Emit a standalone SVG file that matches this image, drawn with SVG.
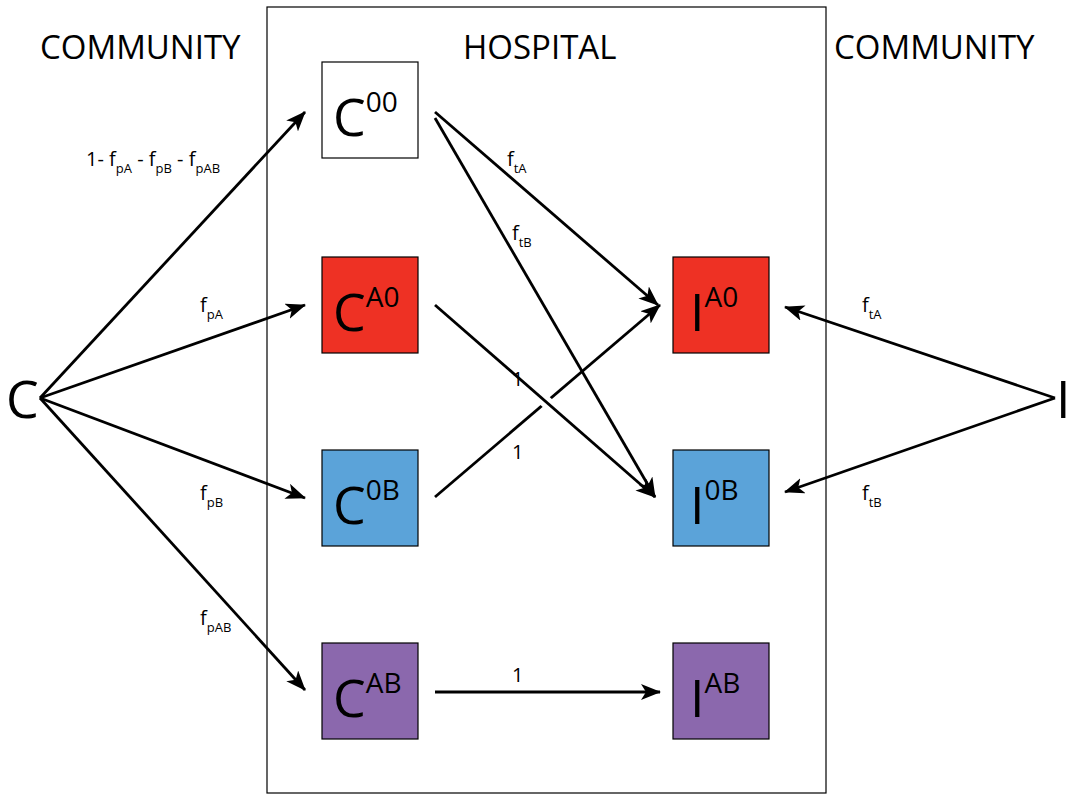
<svg xmlns="http://www.w3.org/2000/svg" width="1074" height="800" viewBox="0 0 1074 800">
<style>
text{font-family:"Open Sans","Liberation Sans",sans-serif;fill:#000}
.big{font-size:52px}
.sup{font-size:28px}
.hd{font-size:33px}
.lb{font-size:20px}
.sb{font-size:13px}
.box{stroke:#000;stroke-width:1.2}
.ln{stroke:#000;stroke-width:2.8;fill:none;marker-end:url(#ah)}
</style>
<defs><marker id="ah" markerWidth="20" markerHeight="16" refX="19" refY="8" orient="auto" markerUnits="userSpaceOnUse" viewBox="0 0 20 16"><path d="M0,0 L20,8 L0,16 L5,8 z" fill="#000"/></marker>
</defs>
<rect x="0" y="0" width="1074" height="800" fill="#fff"/>
<rect x="267" y="7" width="559" height="786" fill="none" stroke="#000" stroke-width="1.2"/>
<text class="hd" x="40" y="59">COMMUNITY</text>
<text class="hd" x="463" y="59">HOSPITAL</text>
<text class="hd" x="834" y="59">COMMUNITY</text>
<g id="C"><text class="big" x="6" y="418">C</text></g>
<g id="I"><text class="big" x="1056" y="418">I</text></g>
<g id="C00"><rect class="box" x="322" y="62" width="96" height="96" fill="#fff"/><text class="big" x="333" y="136">C<tspan class="sup" dy="-24">00</tspan></text></g>
<g id="CA0"><rect class="box" x="322" y="257" width="96" height="96" fill="#EE3124"/><text class="big" x="333" y="331">C<tspan class="sup" dy="-24">A0</tspan></text></g>
<g id="C0B"><rect class="box" x="322" y="450" width="96" height="96" fill="#5BA3D9"/><text class="big" x="333" y="524">C<tspan class="sup" dy="-24">0B</tspan></text></g>
<g id="CAB"><rect class="box" x="322" y="643" width="96" height="96" fill="#8B68AD"/><text class="big" x="333" y="717">C<tspan class="sup" dy="-24">AB</tspan></text></g>
<g id="IA0"><rect class="box" x="673" y="257" width="96" height="96" fill="#EE3124"/><text class="big" x="690" y="331">I<tspan class="sup" dy="-24">A0</tspan></text></g>
<g id="I0B"><rect class="box" x="673" y="450" width="96" height="96" fill="#5BA3D9"/><text class="big" x="690" y="524">I<tspan class="sup" dy="-24">0B</tspan></text></g>
<g id="IAB"><rect class="box" x="673" y="643" width="96" height="96" fill="#8B68AD"/><text class="big" x="690" y="717">I<tspan class="sup" dy="-24">AB</tspan></text></g>
<g id="connectors">
<path class="ln" d="M40,398 L305,112"/>
<path class="ln" d="M40,398 L305,305"/>
<path class="ln" d="M40,398 L305,498"/>
<path class="ln" d="M40,398 L305,690"/>
<path class="ln" d="M435,112 L658,305"/>
<path class="ln" d="M435,118 L655,497"/>
<path class="ln" d="M435,497 L660,305"/>
<path d="M528,386 L562,416" stroke="#fff" stroke-width="12"/>
<path class="ln" d="M435,305 L655,497"/>
<path class="ln" d="M435,692 L660,692"/>
<path class="ln" d="M1055,398 L785,307"/>
<path class="ln" d="M1055,398 L785,492"/>
</g>
<g id="labels">
<text class="lb" x="86" y="166">1- f<tspan class="sb" dy="7">pA</tspan><tspan dy="-7"> - f</tspan><tspan class="sb" dy="7">pB</tspan><tspan dy="-7"> - f</tspan><tspan class="sb" dy="7">pAB</tspan></text>
<text class="lb" x="200" y="312">f<tspan class="sb" dy="7">pA</tspan></text>
<text class="lb" x="200" y="500">f<tspan class="sb" dy="7">pB</tspan></text>
<text class="lb" x="200" y="625">f<tspan class="sb" dy="7">pAB</tspan></text>
<text class="lb" x="507" y="166">f<tspan class="sb" dy="7">tA</tspan></text>
<text class="lb" x="512" y="240">f<tspan class="sb" dy="7">tB</tspan></text>
<text class="lb" x="512" y="386">1</text>
<text class="lb" x="512" y="459">1</text>
<text class="lb" x="512" y="682">1</text>
<text class="lb" x="862" y="312">f<tspan class="sb" dy="7">tA</tspan></text>
<text class="lb" x="862" y="500">f<tspan class="sb" dy="7">tB</tspan></text>
</g>
</svg>
